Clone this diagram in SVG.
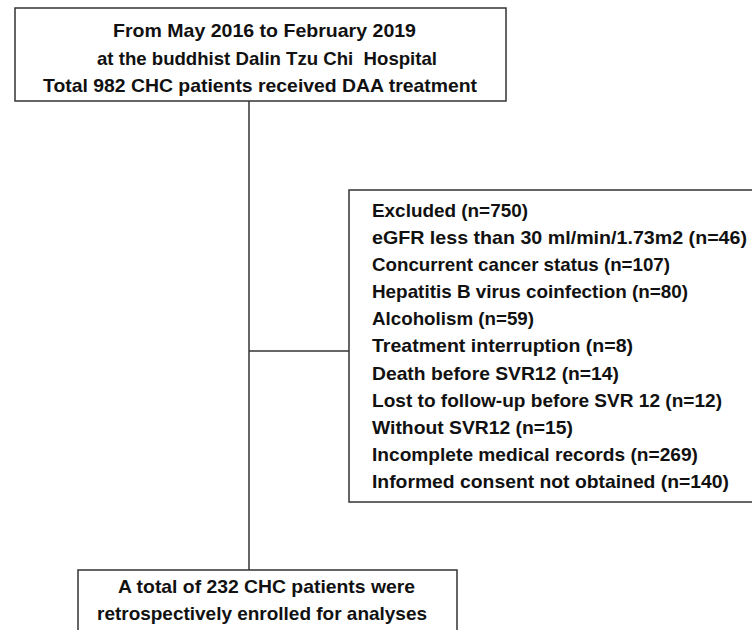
<svg xmlns="http://www.w3.org/2000/svg" width="752" height="630" viewBox="0 0 752 630">
<style>
.box{fill:#fff;stroke:#333;stroke-width:1.5}
.ln{fill:none;stroke:#333;stroke-width:1.5}
text{font-family:"Liberation Sans",Arial,sans-serif;font-weight:bold;fill:#111}
.t{font-size:18.5px}
.e{font-size:19px}
</style>
<rect width="752" height="630" fill="#fff"/>
<g id="connectors">
<line class="ln" x1="249" y1="101" x2="249" y2="570"/>
<line class="ln" x1="249" y1="351" x2="349" y2="351"/>
</g>
<g id="start">
<rect class="box" x="15" y="8" width="491" height="93"/>
<text class="t" x="113" y="37" textLength="303" lengthAdjust="spacingAndGlyphs">From May 2016 to February 2019</text>
<text class="t" x="97" y="65" textLength="340" lengthAdjust="spacingAndGlyphs" xml:space="preserve">at the buddhist Dalin Tzu Chi  Hospital</text>
<text class="t" x="43" y="92" textLength="434" lengthAdjust="spacingAndGlyphs">Total 982 CHC patients received DAA treatment</text>
</g>
<g id="excluded">
<rect class="box" x="349" y="190" width="410" height="312"/>
<text class="e" x="372" y="217" textLength="156" lengthAdjust="spacingAndGlyphs">Excluded (n=750)</text>
<text class="e" x="372" y="244" textLength="375" lengthAdjust="spacingAndGlyphs">eGFR less than 30 ml/min/1.73m2 (n=46)</text>
<text class="e" x="372" y="271" textLength="298" lengthAdjust="spacingAndGlyphs">Concurrent cancer status (n=107)</text>
<text class="e" x="372" y="298" textLength="316" lengthAdjust="spacingAndGlyphs">Hepatitis B virus coinfection (n=80)</text>
<text class="e" x="372" y="325" textLength="162" lengthAdjust="spacingAndGlyphs">Alcoholism (n=59)</text>
<text class="e" x="372" y="352" textLength="261" lengthAdjust="spacingAndGlyphs">Treatment interruption (n=8)</text>
<text class="e" x="372" y="380" textLength="247" lengthAdjust="spacingAndGlyphs">Death before SVR12 (n=14)</text>
<text class="e" x="372" y="407" textLength="350" lengthAdjust="spacingAndGlyphs">Lost to follow-up before SVR 12 (n=12)</text>
<text class="e" x="372" y="434" textLength="201" lengthAdjust="spacingAndGlyphs">Without SVR12 (n=15)</text>
<text class="e" x="372" y="461" textLength="326" lengthAdjust="spacingAndGlyphs">Incomplete medical records (n=269)</text>
<text class="e" x="372" y="488" textLength="357" lengthAdjust="spacingAndGlyphs">Informed consent not obtained (n=140)</text>
</g>
<g id="enrolled">
<rect class="box" x="78" y="570" width="379" height="80"/>
<text class="t" x="118" y="593" textLength="297" lengthAdjust="spacingAndGlyphs">A total of 232 CHC patients were</text>
<text class="t" x="97" y="620" textLength="330" lengthAdjust="spacingAndGlyphs">retrospectively enrolled for analyses</text>
</g>
</svg>
